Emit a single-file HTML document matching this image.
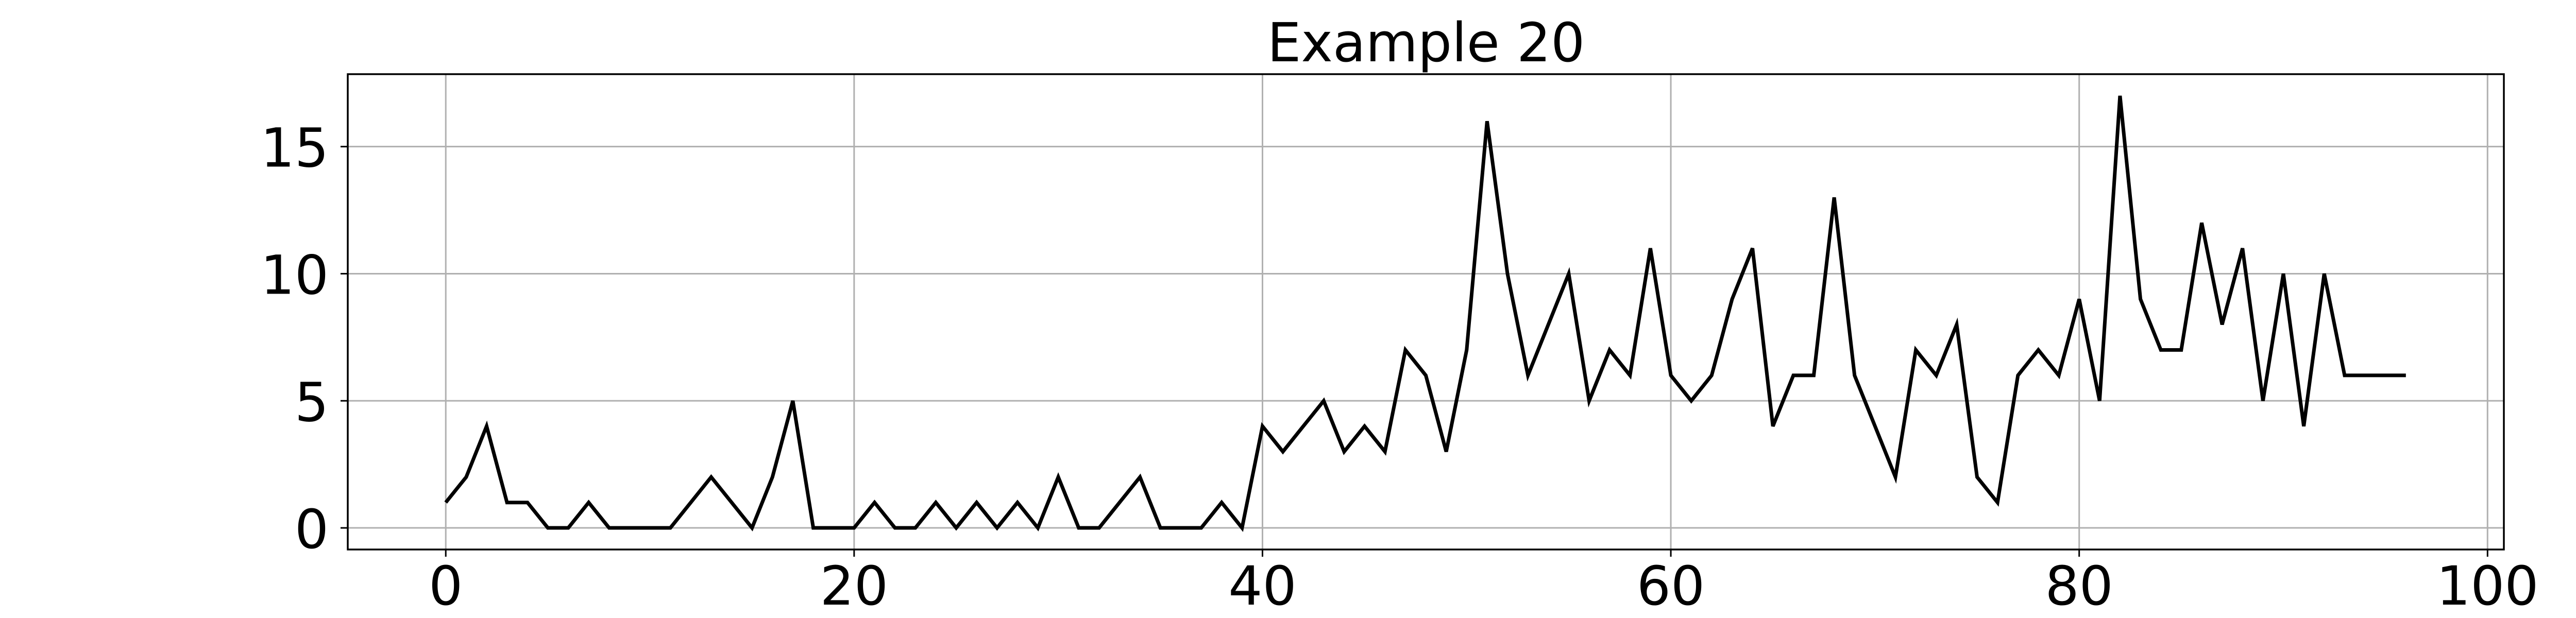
<!DOCTYPE html>
<html><head><meta charset="utf-8"><style>
html,body{margin:0;padding:0;background:#fff;width:5400px;height:1200px;overflow:hidden;}
svg{display:block;}
text{font-family:"DejaVu Sans","Liberation Sans",sans-serif;fill:#000;}
</style></head><body>
<svg id="chart" width="5400" height="1200" viewBox="0 0 5400 1200" xmlns="http://www.w3.org/2000/svg">
<rect x="0" y="0" width="5400" height="1200" fill="#fff"/>
<text x="2768" y="119" font-size="104" text-anchor="middle">Example 20</text>
<g id="grid"></g>
<g id="series"></g>
<rect x="675" y="144" width="4185" height="923" fill="none" stroke="#000" stroke-width="3.5"/>
<g id="axes"></g>
</svg>
<script>
const values = [1,2,4,1,1,0,0,1,0,0,0,0,1,2,1,0,2,5,0,0,0,1,0,0,1,0,1,0,1,0,2,0,0,1,2,0,0,0,1,0,4,3,4,5,3,4,3,7,6,3,7,16,10,6,8,10,5,7,6,11,6,5,6,9,11,4,6,6,13,6,4,2,7,6,8,2,1,6,7,6,9,5,17,9,7,7,12,8,11,5,10,4,10,6,6,6,6];
const xTicks = [0,20,40,60,80,100];
const yTicks = [0,5,10,15];

const NS = "http://www.w3.org/2000/svg";
const L = 675, R = 4860, T = 144, B = 1067;
const n = values.length;
const xMin = -0.05*(n-1), xMax = (n-1)*1.05;
const yMaxV = Math.max(...values), yMinV = Math.min(...values);
const yPad = (yMaxV - yMinV)*0.05;
const yMin = yMinV - yPad, yMax = yMaxV + yPad;
function xs(v){ return L + (v - xMin)/(xMax - xMin)*(R - L); }
function ys(v){ return B - (v - yMin)/(yMax - yMin)*(B - T); }
function mk(tag, attrs, parent){ const e = document.createElementNS(NS, tag); for (const k in attrs) e.setAttribute(k, attrs[k]); parent.appendChild(e); return e; }

const grid = document.getElementById('grid');
const axes = document.getElementById('axes');
xTicks.forEach(t => {
  const x = xs(t);
  const g = mk('line', {x1:x, x2:x, y1:T, y2:B, stroke:'#b0b0b0', 'stroke-width':3}, grid);
  
  
  const tk = mk('line', {x1:x, x2:x, y1:B, y2:B+14, stroke:'#000', 'stroke-width':3}, axes);
  
  
  const tx = mk('text', {x:x, y:1174, 'font-size':104, 'text-anchor':'middle'}, axes);
  tx.textContent = String(t);
  
  
});
yTicks.forEach(t => {
  const y = ys(t);
  const g = mk('line', {x1:L, x2:R, y1:y, y2:y, stroke:'#b0b0b0', 'stroke-width':3}, grid);
  
  
  const tk = mk('line', {x1:L-14, x2:L, y1:y, y2:y, stroke:'#000', 'stroke-width':3}, axes);
  
  
  const tx = mk('text', {x:638, y:y+39, 'font-size':104, 'text-anchor':'end'}, axes);
  tx.textContent = String(t);
  
  
});
const pts = values.map((v,i) => xs(i).toFixed(1) + ',' + ys(v).toFixed(1)).join(' ');
const line = mk('polyline', {points:pts, fill:'none', stroke:'#000', 'stroke-width':7, 'stroke-linejoin':'miter', 'stroke-miterlimit':4}, document.getElementById('series'));


</script>
</body></html>
